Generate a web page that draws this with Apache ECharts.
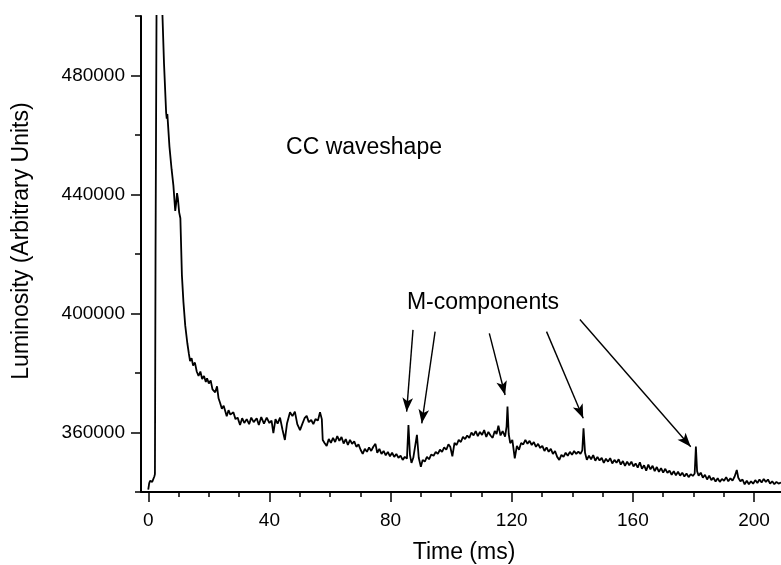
<!DOCTYPE html>
<html>
<head>
<meta charset="utf-8">
<script src="https://cdn.jsdelivr.net/npm/echarts@6/dist/echarts.min.js"></script>
<style>
  html, body { margin: 0; padding: 0; background: #fff; }
  #chart { width: 781px; height: 565px; }
</style>
</head>
<body>
<div id="chart"></div>
<script>
// time axis (ms)
var timeMs = [
  0, 0.3, 0.6, 0.9, 1.3, 1.7, 2.0, 2.2, 2.4, 3.2, 4.5, 5.2, 5.9, 6.1, 6.3, 7.0, 7.7, 8.3, 8.9, 9.2,
  9.5, 9.8, 10.2, 10.6, 11.1, 11.6, 12.2, 12.9, 13.4, 13.8, 14.3, 14.8, 15.4, 16.0, 16.6, 17.2, 17.8, 18.4, 19.0, 19.4,
  20.0, 20.6, 21.2, 22.1, 22.7, 23.2, 23.7, 24.3, 24.9, 25.9, 26.5, 27.1, 28.1, 28.8, 29.5, 30.3, 31.0, 31.7, 32.5, 33.3,
  34.0, 34.8, 35.8, 36.5, 37.3, 38.2, 39.1, 40.0, 40.7, 41.3, 42.0, 42.7, 43.5, 44.3, 45.1, 45.8, 46.8, 47.6, 48.4, 49.2,
  50.1, 50.9, 51.6, 52.3, 53.0, 53.8, 54.5, 55.2, 56.0, 56.7, 57.3, 57.6, 58.2, 58.9, 59.6, 60.3, 61.0, 61.7, 62.4, 63.1,
  63.8, 64.5, 65.2, 65.9, 66.6, 67.3, 68.0, 68.7, 69.4, 70.1, 70.8, 71.5, 72.2, 72.9, 73.6, 74.3, 75.0, 75.6, 76.3, 77.0,
  77.7, 78.4, 79.1, 79.8, 80.5, 81.2, 81.9, 82.6, 83.3, 84.0, 84.7, 85.4, 85.9, 86.4, 86.9, 87.5, 88.0, 88.7, 89.3, 90.0,
  90.6, 91.3, 92.0, 92.7, 93.4, 94.2, 94.9, 95.6, 96.3, 97.0, 97.7, 98.4, 99.1, 99.7, 100.4, 101.1, 101.8, 102.5, 103.2, 103.9,
  104.6, 105.3, 106.0, 106.7, 107.4, 108.1, 108.8, 109.5, 110.2, 110.9, 111.6, 112.3, 113.0, 113.7, 114.4, 115.0, 115.6, 116.3, 117.0, 117.8,
  118.3, 118.6, 119.0, 119.5, 120.2, 121.0, 121.7, 122.4, 123.1, 123.8, 124.5, 125.2, 125.9, 126.6, 127.3, 128.0, 128.7, 129.4, 130.1, 130.8,
  131.5, 132.2, 132.9, 133.6, 134.3, 135.0, 135.7, 136.4, 137.1, 137.8, 138.5, 139.2, 139.9, 140.6, 141.3, 142.0, 142.7, 143.3, 143.7, 144.2,
  144.8, 145.5, 146.2, 146.9, 147.6, 148.3, 149.0, 149.7, 150.4, 151.1, 151.8, 152.5, 153.2, 153.9, 154.6, 155.3, 156.0, 156.7, 157.4, 158.1,
  158.8, 159.5, 160.2, 160.9, 161.6, 162.3, 163.0, 163.7, 164.4, 165.1, 165.8, 166.5, 167.2, 167.9, 168.6, 169.3, 170.0, 170.7, 171.4, 172.1,
  172.8, 173.5, 174.2, 174.9, 175.6, 176.3, 177.0, 177.7, 178.4, 179.1, 179.8, 180.4, 180.8, 181.2, 181.7, 182.4, 183.1, 183.8, 184.5, 185.2,
  185.9, 186.6, 187.3, 188.0, 188.7, 189.4, 190.1, 190.8, 191.5, 192.2, 192.9, 193.6, 194.3, 194.8, 195.5, 196.2, 196.9, 197.6, 198.3, 199.0,
  199.7, 200.4, 201.1, 201.8, 202.5, 203.2, 203.9, 204.6, 205.3, 206.0, 206.7, 207.4, 208.1, 208.9
];

// luminosity (arbitrary units), same order as timeMs
var luminosity = [
  340800, 342900, 343800, 344100, 343400, 343600, 345200, 346000, 420000, 620000, 506000, 484000, 467500, 465500, 467000, 456000, 448500, 443000, 434500, 437000,
  440500, 438500, 434000, 432000, 413000, 404000, 396000, 390000, 386500, 384000, 385000, 382500, 383500, 380500, 379000, 380500, 378000, 379000, 377000, 378200,
  376500, 377500, 374500, 373500, 375500, 371500, 370000, 368000, 369000, 365500, 367500, 366000, 366800, 364500, 365000, 362500, 364800, 363200, 364500, 362800,
  365000, 363500, 364800, 362500, 365200, 363000, 365000, 363200, 364000, 359800, 364500, 363000, 365000, 361000, 357500, 363000, 366800, 365500, 367000, 362800,
  360800, 363000, 364800, 365600, 363500, 364200, 362800, 364500, 364000, 366800, 364500, 357500, 356500, 355500, 357800, 356500, 358200, 356800, 358800, 357200,
  358500, 356300, 357800, 355800, 357500, 356200, 357000, 355200, 356000, 354200, 352800, 354500, 353500, 355000, 353800, 355200, 356200, 353200, 354500, 352800,
  353800, 352300, 353500, 352000, 353200, 351800, 352800, 351500, 352200, 350800, 351800, 351200, 362500, 352500, 349800, 351500, 351000, 359200, 351500, 348500,
  350800, 350200, 351800, 351000, 352600, 352200, 353500, 352800, 354200, 353500, 355000, 354200, 356000, 355200, 352000, 356500, 355800, 357500, 356800, 358500,
  357800, 359000, 358200, 360000, 359000, 360500, 358800, 360200, 359200, 360800, 358500, 360200, 359000, 358200, 360500, 359500, 362300, 359000, 360500, 358600,
  362000, 368700, 359500, 356400, 357500, 351300, 355500, 354200, 356500, 356000, 357500, 356200, 357200, 355800, 356800, 355200, 356200, 354800, 355500, 353800,
  355000, 353500, 354500, 352800, 353800, 351800, 350800, 352500, 351800, 353200, 352200, 353500, 352500, 353800, 352800, 353600, 352800, 354000, 361400, 353200,
  350800, 352200, 351000, 352400, 350500, 351800, 350600, 351500, 349800, 351200, 350200, 351400, 349600, 350800, 349800, 351000, 349200, 350400, 348800, 350200,
  349000, 350200, 348600, 349600, 348200, 350000, 347800, 349000, 347200, 349200, 347600, 348800, 347000, 348400, 346800, 348000, 346500, 347800, 346400, 347200,
  345800, 347000, 345600, 346800, 345500, 346500, 345200, 346200, 345000, 346000, 345400, 346200, 355300, 347000, 345500, 346500, 344800, 345800, 344200, 345500,
  344000, 344800, 343500, 344600, 343400, 344400, 343800, 345000, 343600, 344600, 343800, 345200, 347400, 344800, 343600, 344200, 342600, 343800, 342600, 343600,
  342800, 344000, 343000, 344200, 343200, 344400, 343400, 344200, 342800, 343600, 342600, 343400, 342800, 343200
];

// arrows pointing at the M-components: [fromTime, fromLum, toTime, toLum]
var arrows = [
  [87.4, 394500, 85.3, 367000],
  [94.7, 393900, 90.3, 363100],
  [112.6, 393300, 117.8, 372600],
  [131.5, 393900, 143.6, 364800],
  [142.5, 398000, 179.1, 355200]
];

var xTicks = { min: 0, max: 200, interval: 40 };
var yTicks = { min: 360000, max: 480000, interval: 40000 };

var FONT = 'Liberation Sans, Arial, sans-serif';

var chart = echarts.init(document.getElementById('chart'));

var seriesData = [];
for (var i = 0; i < timeMs.length; i++) {
  seriesData.push([timeMs[i], luminosity[i]]);
}

var arrowData = [];
for (var j = 0; j < arrows.length; j++) {
  arrowData.push([
    { coord: [arrows[j][0], arrows[j][1]], symbol: 'none' },
    { coord: [arrows[j][2], arrows[j][3]], symbol: 'arrow', symbolSize: [8, 14] }
  ]);
}

var option = {
  animation: false,
  backgroundColor: '#fff',
  textStyle: { fontFamily: FONT },
  grid: [
    // data grid
    { left: 141, right: 0, top: 16, bottom: 73 },
    // x tick labels grid
    { left: 148.3, right: 27, top: 16, bottom: 73 },
    // y tick labels grid
    { left: 141, right: 0, top: 76, bottom: 132 }
  ],
  xAxis: [
    {
      gridIndex: 0, type: 'value', min: -2.4, max: 208.9,
      axisLine: { show: true, onZero: false, lineStyle: { color: '#000', width: 2 } },
      axisTick: { show: false }, axisLabel: { show: false }, splitLine: { show: false }
    },
    {
      gridIndex: 1, type: 'value', min: xTicks.min, max: xTicks.max, interval: xTicks.interval,
      axisLine: { show: false, onZero: false },
      axisTick: { show: true, length: 10, lineStyle: { color: '#000', width: 1.5 } },
      minorTick: { show: true, splitNumber: 4, length: 5, lineStyle: { color: '#000', width: 1.5 } },
      axisLabel: { show: true, margin: 19, fontSize: 19, color: '#000', fontFamily: FONT },
      splitLine: { show: false }
    },
    {
      gridIndex: 2, type: 'value', min: -2.4, max: 208.9, show: false
    }
  ],
  yAxis: [
    {
      gridIndex: 0, type: 'value', min: 340000, max: 500000, interval: 20000,
      axisLine: { show: true, onZero: false, lineStyle: { color: '#000', width: 2 } },
      axisTick: { show: true, length: 6, lineStyle: { color: '#000', width: 1.5 } },
      axisLabel: { show: false }, splitLine: { show: false }
    },
    {
      gridIndex: 1, type: 'value', min: 340000, max: 500000, show: false
    },
    {
      gridIndex: 2, type: 'value', min: yTicks.min, max: yTicks.max, interval: yTicks.interval,
      axisLine: { show: false, onZero: false },
      axisTick: { show: true, length: 10, lineStyle: { color: '#000', width: 1.5 } },
      axisLabel: {
        show: true, margin: 16, fontSize: 19, color: '#000', fontFamily: FONT,
        formatter: function (v) { return String(v); }
      },
      splitLine: { show: false }
    }
  ],
  graphic: [
    {
      type: 'text', x: 22, y: 241, rotation: Math.PI / 2,
      style: { text: 'Luminosity (Arbitrary Units)', fill: '#000', font: '23px ' + FONT, align: 'center', verticalAlign: 'middle' }
    },
    {
      type: 'text', x: 464, y: 553,
      style: { text: 'Time (ms)', fill: '#000', font: '23px ' + FONT, align: 'center', verticalAlign: 'middle' }
    },
    {
      type: 'text', x: 364, y: 148,
      style: { text: 'CC waveshape', fill: '#000', font: '23px ' + FONT, align: 'center', verticalAlign: 'middle' }
    },
    {
      type: 'text', x: 483, y: 303,
      style: { text: 'M-components', fill: '#000', font: '23px ' + FONT, align: 'center', verticalAlign: 'middle' }
    }
  ],
  series: [
    {
      type: 'line',
      xAxisIndex: 0, yAxisIndex: 0,
      data: seriesData,
      showSymbol: false,
      clip: true,
      lineStyle: { color: '#000', width: 1.8 },
      markLine: {
        silent: true,
        symbol: ['none', 'arrow'],
        symbolSize: 12,
        label: { show: false },
        lineStyle: { color: '#000', width: 1.4, type: 'solid' },
        data: arrowData
      }
    }
  ]
};

chart.setOption(option);
</script>
</body>
</html>
